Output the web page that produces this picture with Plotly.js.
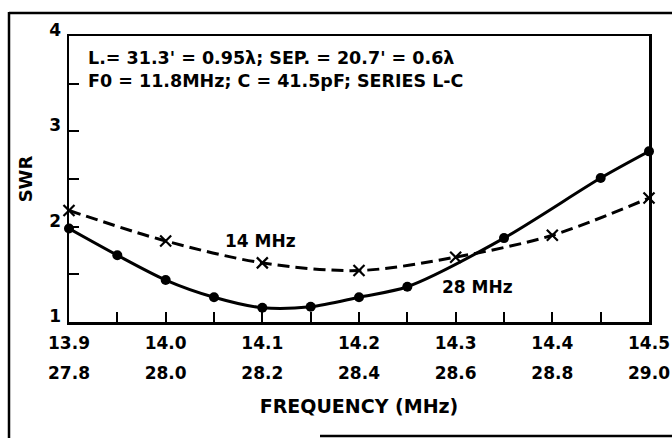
<!DOCTYPE html>
<html>
<head>
<meta charset="utf-8">
<script src="https://cdn.plot.ly/plotly-3.0.1.min.js"></script>
<style>html,body{margin:0;padding:0;background:#fff;}#chart{width:672px;height:438px;}</style>
</head>
<body>
<div id="chart"></div>
<script>
// 14 MHz band (dashed, x markers)
const f14 = [13.9, 14.0, 14.1, 14.2, 14.3, 14.4, 14.5];
const swr14 = [2.17, 1.85, 1.62, 1.54, 1.68, 1.91, 2.30];
// 28 MHz band (solid, dots) on the 28 MHz frequency scale
const f28 = [27.8, 27.9, 28.0, 28.1, 28.2, 28.3, 28.4, 28.5, 28.7, 28.9, 29.0];
const swr28 = [1.98, 1.70, 1.44, 1.26, 1.15, 1.16, 1.26, 1.37, 1.88, 2.51, 2.79];

// axis ticks
const xTickVals14 = [13.9, 13.95, 14.0, 14.05, 14.1, 14.15, 14.2, 14.25, 14.3, 14.35, 14.4, 14.45, 14.5];
const xTickText14 = ['13.9', '', '14.0', '', '14.1', '', '14.2', '', '14.3', '', '14.4', '', '14.5'];
const xTickVals28 = [27.8, 28.0, 28.2, 28.4, 28.6, 28.8, 29.0];
const xTickText28 = ['27.8', '28.0', '28.2', '28.4', '28.6', '28.8', '29.0'];
const yTickVals = [1, 1.5, 2, 2.5, 3, 3.5, 4];
const yTickText = ['1', '', '2', '', '3', '', '4'];

const noteLines = ["L.= 31.3' = 0.95λ; SEP. = 20.7' = 0.6λ", "F0 = 11.8MHz; C = 41.5pF; SERIES L-C"];
const seriesLabels = ['14 MHz', '28 MHz'];

const FONT = 'DejaVu Sans, sans-serif';

const traces = [
  {
    x: f14, y: swr14, xaxis: 'x', yaxis: 'y', type: 'scatter', mode: 'lines+markers',
    name: seriesLabels[0], cliponaxis: false,
    line: {color: '#000', width: 3, dash: '12px,6px', shape: 'spline', smoothing: 0.9},
    marker: {symbol: 'x-thin-open', size: 11, color: '#000', line: {color: '#000', width: 2.2}},
    hoverinfo: 'skip'
  },
  {
    x: f28, y: swr28, xaxis: 'x2', yaxis: 'y', type: 'scatter', mode: 'lines+markers',
    name: seriesLabels[1], cliponaxis: false,
    line: {color: '#000', width: 3, shape: 'spline', smoothing: 0.8},
    marker: {symbol: 'circle', size: 10, color: '#000'},
    hoverinfo: 'skip'
  }
];

// pixel helpers for paper coordinates (plot region: l=69, r=23, t=36, b=38)
const L = 69, R = 23, T = 36, B = 38, W = 672, H = 438;
const pw = W - L - R, ph = H - T - B;
const px = v => (v - L) / pw;
const py = v => (H - B - v) / ph;

const layout = {
  width: W, height: H,
  margin: {l: L, r: R, t: T, b: B, pad: 0},
  paper_bgcolor: '#fff', plot_bgcolor: '#fff',
  showlegend: false,
  font: {family: FONT, color: '#000', size: 17},
  xaxis: {
    range: [13.9, 14.5], tickmode: 'array', tickvals: xTickVals14, ticktext: xTickText14,
    ticks: 'inside', ticklen: 10, tickwidth: 2, tickcolor: '#000',
    showline: true, linewidth: 2.5, linecolor: '#000', mirror: true,
    showgrid: false, zeroline: false, anchor: 'y', ticklabelstandoff: 4,
    tickfont: {family: FONT, size: 17, weight: 'bold'}
  },
  xaxis2: {
    range: [27.8, 29.0], overlaying: 'x', side: 'bottom', anchor: 'free',
    position: py(361),
    tickmode: 'array', tickvals: xTickVals28, ticktext: xTickText28,
    ticks: '', showline: false, showgrid: false, zeroline: false,
    tickfont: {family: FONT, size: 17, weight: 'bold'},
    title: {text: 'FREQUENCY (MHz)', font: {family: FONT, size: 19, weight: 'bold'}, standoff: 17}
  },
  yaxis: {
    domain: [py(322), 1],
    range: [1, 4], tickmode: 'array', tickvals: yTickVals, ticktext: yTickText,
    ticks: 'inside', ticklen: 10, tickwidth: 2, tickcolor: '#000',
    showline: true, linewidth: 2.5, linecolor: '#000', mirror: true,
    showgrid: false, zeroline: false, ticklabelstandoff: 2, ticklabelshift: -6,
    tickfont: {family: FONT, size: 17, weight: 'bold'},
    title: {text: 'SWR', font: {family: FONT, size: 18, weight: 'bold'}, standoff: 12}
  },
  annotations: [
    {xref: 'paper', yref: 'paper', x: px(86), y: py(58), xanchor: 'left', yanchor: 'middle',
     text: noteLines[0], showarrow: false, font: {family: FONT, size: 17.5, weight: 'bold'}},
    {xref: 'paper', yref: 'paper', x: px(86), y: py(81), xanchor: 'left', yanchor: 'middle',
     text: noteLines[1], showarrow: false, font: {family: FONT, size: 17.5, weight: 'bold'}},
    {xref: 'paper', yref: 'paper', x: px(260), y: py(241), xanchor: 'center', yanchor: 'middle',
     text: seriesLabels[0], showarrow: false, font: {family: FONT, size: 17, weight: 'bold'}},
    {xref: 'paper', yref: 'paper', x: px(477), y: py(287), xanchor: 'center', yanchor: 'middle',
     text: seriesLabels[1], showarrow: false, font: {family: FONT, size: 17, weight: 'bold'}}
  ],
  shapes: [
    {type: 'line', xref: 'paper', yref: 'paper', x0: px(9), x1: px(680), y0: py(13), y1: py(13), line: {color: '#000', width: 2.5}},
    {type: 'line', xref: 'paper', yref: 'paper', x0: px(9), x1: px(9), y0: py(12), y1: py(445), line: {color: '#000', width: 2.5}},
    {type: 'line', xref: 'paper', yref: 'paper', x0: px(320), x1: px(680), y0: py(436), y1: py(436), line: {color: '#000', width: 2.5}}
  ]
};

Plotly.newPlot('chart', traces, layout, {staticPlot: true, displayModeBar: false});
</script>
</body>
</html>
